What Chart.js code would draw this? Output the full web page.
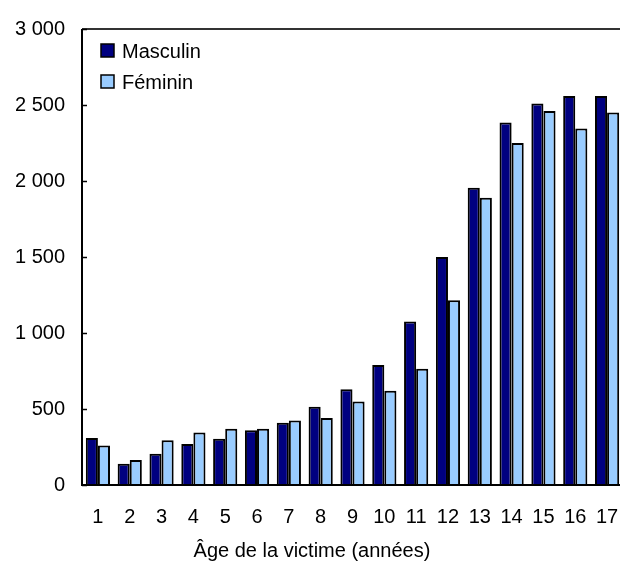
<!DOCTYPE html>
<html>
<head>
<meta charset="utf-8">
<script src="https://cdn.jsdelivr.net/npm/chart.js@4.4.1/dist/chart.umd.min.js"></script>
<style>
  html, body { margin: 0; padding: 0; background: #fff; overflow: hidden; }
  #wrap { position: relative; width: 626px; height: 561px; }
  canvas { display: block; }
</style>
</head>
<body>
<div id="wrap"><canvas id="ageChart" width="626" height="561"></canvas></div>
<script>
// Ages of the victims (x axis)
var ages = ['1', '2', '3', '4', '5', '6', '7', '8', '9', '10', '11', '12', '13', '14', '15', '16', '17'];

// Values
var masculin = [310, 140, 205, 270, 305, 360, 410, 515, 630, 790, 1075, 1500, 1955, 2385, 2510, 2560, 2560];
var feminin  = [260, 165, 295, 345, 370, 370, 425, 440, 550, 620, 765, 1215, 1890, 2250, 2460, 2345, 2450];

var yTicks = [0, 500, 1000, 1500, 2000, 2500, 3000];
var xTitle = 'Âge de la victime (années)';

var fontFamily = 'Arial, "Liberation Sans", sans-serif';

// thousands with a space, like "2 500"
function formatNumber(v) {
    return String(v).replace(/\B(?=(\d{3})+(?!\d))/g, ' ');
}

// axes, inward ticks, legend and title drawn by hand
var framePlugin = {
    id: 'frame',
    afterDraw: function(chart) {
        var ctx = chart.ctx;
        var area = chart.chartArea;
        var yScale = chart.scales.y;
        ctx.save();

        // top (and right) border
        ctx.strokeStyle = '#333';
        ctx.lineWidth = 2;
        ctx.beginPath();
        ctx.moveTo(area.left, area.top);
        ctx.lineTo(area.right, area.top);
        ctx.lineTo(area.right, area.bottom);
        ctx.stroke();

        // left and bottom axis
        ctx.strokeStyle = '#000';
        ctx.beginPath();
        ctx.moveTo(area.left, area.top);
        ctx.lineTo(area.left, area.bottom);
        ctx.lineTo(area.right, area.bottom);
        ctx.stroke();

        // small ticks pointing inside
        ctx.lineWidth = 1.5;
        yTicks.forEach(function(v) {
            var y = Math.round(yScale.getPixelForValue(v)) + 0.5;
            ctx.beginPath();
            ctx.moveTo(area.left, y);
            ctx.lineTo(area.left + 5, y);
            ctx.stroke();
        });

        // legend
        ctx.font = '20px ' + fontFamily;
        ctx.textAlign = 'left';
        ctx.textBaseline = 'alphabetic';
        chart.data.datasets.forEach(function(ds, i) {
            var top = 44 + i * 31;
            ctx.fillStyle = ds.backgroundColor;
            ctx.fillRect(101, top, 13, 13);
            ctx.lineWidth = 1.5;
            ctx.strokeStyle = '#000';
            ctx.strokeRect(101, top, 13, 13);
            ctx.fillStyle = '#000';
            ctx.fillText(ds.label, 122, top + 13.5);
        });

        // x axis title
        ctx.textAlign = 'center';
        ctx.fillText(xTitle, 312, 557);

        ctx.restore();
    }
};

var ctx = document.getElementById('ageChart').getContext('2d');
var ageChart = new Chart(ctx, {
    type: 'bar',
    data: {
        labels: ages,
        datasets: [
            {
                label: 'Masculin',
                data: masculin,
                backgroundColor: '#000080',
                borderColor: '#000',
                borderWidth: 2,
                categoryPercentage: 0.76,
                barPercentage: 1.0
            },
            {
                label: 'Féminin',
                data: feminin,
                backgroundColor: '#99CCFF',
                borderColor: '#000',
                borderWidth: 2,
                categoryPercentage: 0.76,
                barPercentage: 1.0
            }
        ]
    },
    options: {
        responsive: false,
        maintainAspectRatio: false,
        animation: false,
        layout: { padding: { top: 23, right: 3, left: 0, bottom: 0 } },
        plugins: {
            legend: { display: false },
            tooltip: { enabled: false }
        },
        scales: {
            x: {
                grid: { display: false, drawTicks: false, tickLength: 0 },
                border: { display: false },
                ticks: {
                    color: '#000',
                    padding: 20,
                    maxRotation: 0,
                    autoSkip: false,
                    font: { family: fontFamily, size: 20 }
                },
                afterFit: function(scale) {
                    scale.height = 76;
                    scale.paddingLeft = 0;
                    scale.paddingRight = 0;
                }
            },
            y: {
                min: 0,
                max: 3000,
                grid: { display: false, drawTicks: false, tickLength: 0 },
                border: { display: false },
                afterBuildTicks: function(scale) {
                    scale.ticks = yTicks.map(function(v) { return { value: v }; });
                },
                ticks: {
                    color: '#000',
                    padding: 17,
                    font: { family: fontFamily, size: 20 },
                    callback: function(v) { return formatNumber(v); }
                },
                afterFit: function(scale) { scale.width = 82; }
            }
        }
    },
    plugins: [framePlugin]
});
</script>
</body>
</html>
